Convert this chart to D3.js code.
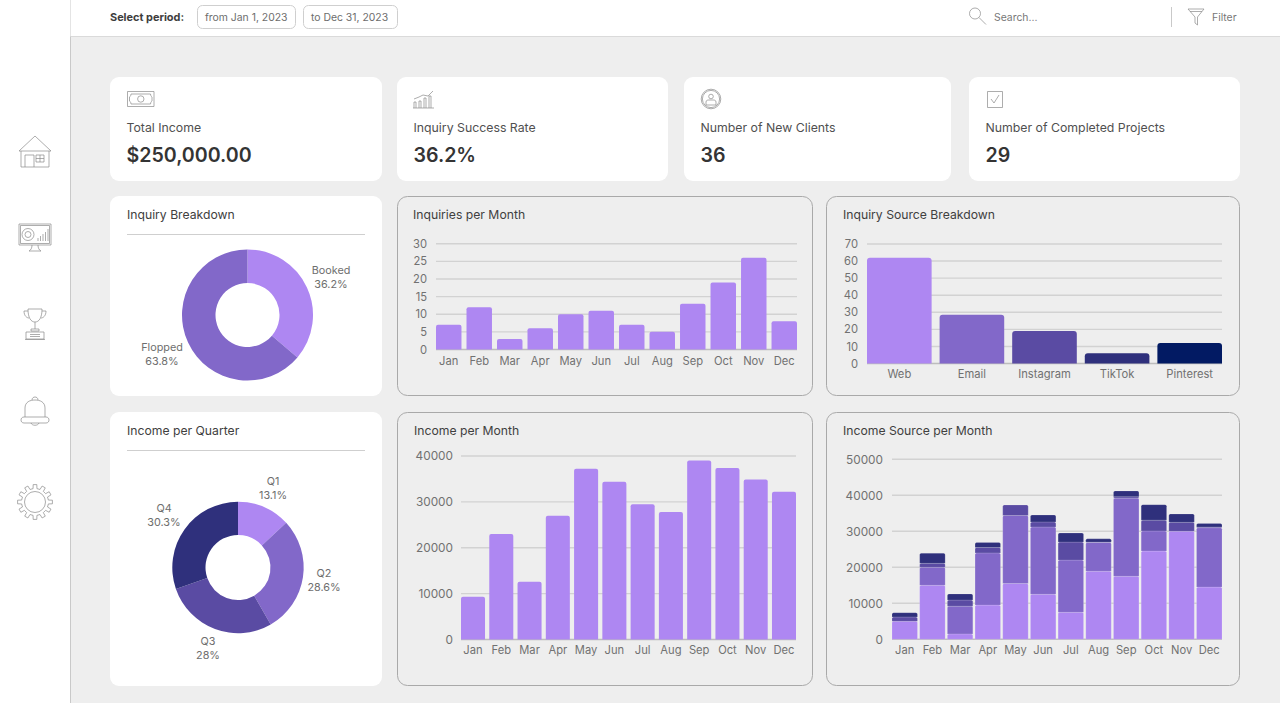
<!DOCTYPE html>
<html><head><meta charset="utf-8">
<script src="https://cdnjs.cloudflare.com/ajax/libs/d3/7.8.5/d3.min.js"></script>
<style>
html,body{margin:0;padding:0;background:#eee;overflow:hidden}
svg{display:block}
text{font-family:Inter,"Noto Sans",sans-serif}
.axis text{fill:#717171;font-size:11.2px}
.axis.big text{font-size:11.8px}
.axis path,.axis line{display:none}
.grid line{stroke:#d2d2d2;stroke-width:1.4}
.lbl{fill:#6e6e6e;font-size:10.8px;text-anchor:middle}
.ic{fill:none;stroke:#8a8a8a;stroke-width:.7}
</style></head><body>
<svg id="c" width="1280" height="703"></svg>
<script>
const months=["Jan","Feb","Mar","Apr","May","Jun","Jul","Aug","Sep","Oct","Nov","Dec"];
const inquiries=[7,12,3,6,10,11,7,5,13,19,26,8];
const sources=["Web","Email","Instagram","TikTok","Pinterest"];
const sourceValues=[62,28.5,19,6,12];
const incomeMonth=[9300,23000,12600,27000,37200,34400,29500,27800,39000,37400,34900,32200];
const stackKeys=["a","b","c","d"];
const seriesA=[5000,15000,1500,9500,15500,12500,7500,18900,17500,24500,30000,14500];
const seriesB=[0,5000,7700,14500,18900,18700,14500,8000,21700,5600,0,16500];
const seriesC=[1200,1100,1700,1500,2900,1400,5000,100,400,3000,2500,200];
const seriesD=[1200,2800,1700,1400,0,1900,2500,900,1600,4300,2300,1000];
const breakdown=[["Booked",36.2],["Flopped",63.8]];
const quarters=[["Q1",13.1],["Q2",28.6],["Q3",28],["Q4",30.3]];
const kpiTitles=["Total Income","Inquiry Success Rate","Number of New Clients","Number of Completed Projects"];
const kpiValues=["$250,000.00","36.2%","36","29"];
const purple=["#ae87f2","#8268c9","#5a4ba3","#2f307c"];
const sourceColors=["#ae87f2","#8268c9","#5a4ba3","#2f307c","#021a63"];

const svg=d3.select("#c");
const rect=(x,y,w,h,r,f,s)=>svg.append("rect").attr("x",x).attr("y",y).attr("width",w).attr("height",h)
  .attr("rx",r).attr("fill",f).attr("stroke",s||"none");
const text=(x,y,t,size,fill,weight)=>svg.append("text").attr("x",x).attr("y",y).text(t)
  .attr("font-size",size).attr("fill",fill).attr("font-weight",weight||400);

// shell
rect(0,0,1280,703,0,"#eeeeee");
rect(0,0,70.5,703,0,"#fff");
svg.append("line").attr("x1",70.5).attr("x2",70.5).attr("y1",0).attr("y2",703).attr("stroke","#c9c9c9");
rect(70.5,0,1210,36.5,0,"#fff");
svg.append("line").attr("x1",71).attr("x2",1280).attr("y1",36.5).attr("y2",36.5).attr("stroke","#dadada");
text(110,21,"Select period:",10.9,"#3d3d3d",700);
rect(197.5,5.5,98,23,5,"#fff","#cfcfcf");
text(205,21,"from Jan 1, 2023",10.4,"#6d6d6d");
rect(303.5,5.5,94,23,5,"#fff","#cfcfcf");
text(311,21,"to Dec 31, 2023",10.4,"#6d6d6d");
text(994,21,"Search...",10.4,"#777");
text(1212,21,"Filter",10.4,"#777");
svg.append("line").attr("x1",1171.5).attr("x2",1171.5).attr("y1",7).attr("y2",27).attr("stroke","#c9c9c9");

// KPI cards
const kpiBoxes=[[110,272],[397,271],[684,267],[969,271]];
kpiBoxes.forEach((b,i)=>{
  rect(b[0],77,b[1],104,9,"#fff");
  text(b[0]+16.5,132,kpiTitles[i],12.3,"#505050");
  text(b[0]+16.5,162,kpiValues[i],19.6,"#343434",600);
});

// panels
[[110,196,272,200],[110,412,272,274]].forEach(b=>rect(b[0],b[1],b[2],b[3],9,"#fff"));
[[397.5,196.5,415,199],[826.5,196.5,413,199],[397.5,412.5,415,273],[826.5,412.5,413,273]]
  .forEach(b=>rect(b[0],b[1],b[2],b[3],10,"#eeeeee","#a9a9a9"));
[[127,219,"Inquiry Breakdown"],[127,435,"Income per Quarter"],[413,219,"Inquiries per Month"],
 [843,219,"Inquiry Source Breakdown"],[414,435,"Income per Month"],[843,435,"Income Source per Month"]]
 .forEach(t=>text(t[0],t[1],t[2],12.2,"#404040"));
[234.5,450.5].forEach(y=>svg.append("line").attr("x1",127).attr("x2",365).attr("y1",y).attr("y2",y).attr("stroke","#cfcfcf"));

function barChart(o){
  const x=d3.scaleBand().domain(o.cats).range([o.x0,o.x1]).paddingInner(o.pad).paddingOuter(0);
  const y=d3.scaleLinear().domain([0,o.max]).range([o.y0,o.y1]);
  const g=svg.append("g").attr("class","grid");
  g.selectAll("line").data(o.ticks).join("line").attr("x1",o.x0).attr("x2",o.x1)
    .attr("y1",d=>y(d)).attr("y2",d=>y(d)).style("stroke",d=>d===0?"#bdbdbd":null);
  svg.append("g").attr("class","axis"+(o.big?" big":"")).attr("transform",`translate(${o.x0-3},0)`)
    .call(d3.axisLeft(y).tickValues(o.ticks).tickSize(0).tickPadding(o.tp).tickFormat(d3.format("d")));
  svg.append("g").attr("class","axis").attr("transform",`translate(0,${o.y0})`)
    .call(d3.axisBottom(x).tickSize(0).tickPadding(o.bp));
  return {x,y};
}
const topRounded=(x,y,w,h,r)=>{
  const p=d3.path(); r=Math.min(r,h,w/2);
  p.moveTo(x,y+h);p.lineTo(x,y+r);p.arcTo(x,y,x+r,y,r);p.lineTo(x+w-r,y);p.arcTo(x+w,y,x+w,y+r,r);p.lineTo(x+w,y+h);p.closePath();
  return p.toString();
};
function simpleBars(o,vals,colors){
  const {x,y}=barChart(o);
  svg.append("g").selectAll("path").data(vals).join("path")
    .attr("fill",(d,i)=>colors[i%colors.length])
    .attr("d",(d,i)=>topRounded(x(o.cats[i]),y(d),x.bandwidth(),y(0)-y(d),o.r));
}
simpleBars({cats:months,x0:436,x1:797,y0:349.5,y1:243.7,max:30,ticks:[0,5,10,15,20,25,30],pad:.165,tp:6,bp:8,r:2},inquiries,[purple[0]]);
simpleBars({cats:sources,x0:867,x1:1222,y0:363.5,y1:244,max:70,ticks:[0,10,20,30,40,50,60,70],pad:.11,tp:6,bp:7,r:3},sourceValues,sourceColors);
simpleBars({cats:months,x0:461,x1:796,y0:639.5,y1:456,max:40000,ticks:[0,10000,20000,30000,40000],pad:.15,tp:5,bp:7,r:2,big:true},incomeMonth,[purple[0]]);

// stacked
const stackOpt={cats:months,x0:892,x1:1222,y0:639.3,y1:459.3,max:50000,ticks:[0,10000,20000,30000,40000,50000],pad:.08,tp:6,bp:7,big:true};
const sc=barChart(stackOpt);
const rows=months.map((m,i)=>({m,a:seriesA[i],b:seriesB[i],c:seriesC[i],d:seriesD[i]}));
d3.stack().keys(stackKeys)(rows).forEach((s,k)=>{
  svg.append("g").selectAll("path").data(s.filter(d=>d[1]>d[0])).join("path")
    .attr("fill",purple[k]).attr("stroke","rgba(255,255,255,.25)").attr("stroke-width",.6)
    .attr("d",d=>topRounded(sc.x(d.data.m),sc.y(d[1]),sc.x.bandwidth(),sc.y(d[0])-sc.y(d[1]),1.5));
});

// donuts
function donut(cx,cy,R,r,data,labelPos){
  const pie=d3.pie().sort(null).value(d=>d[1]);
  const arc=d3.arc().innerRadius(r).outerRadius(R);
  const g=svg.append("g").attr("transform",`translate(${cx},${cy})`);
  g.selectAll("path").data(pie(data)).join("path").attr("d",arc).attr("fill",(d,i)=>purple[i]);
  data.forEach((d,i)=>{
    const p=labelPos[i];
    svg.append("text").attr("class","lbl").attr("x",p[0]).attr("y",p[1]).text(d[0]);
    svg.append("text").attr("class","lbl").attr("x",p[0]).attr("y",p[1]+14).text(d[1]+"%");
  });
}
donut(247.5,315,65.5,32,breakdown,[[331,274],[162,351]]);
donut(238,567.5,65.7,32.5,quarters,[[273,485],[324,577],[208,645],[164,512]]);

// icons
const ic=(tx,s,d)=>svg.append("path").attr("class","ic").attr("transform",`translate(${tx}) scale(${s})`).attr("d",d);
// house
ic("19,136",1,"M0 15 L16 0 L32 15 Z M2 15 V31 H30 V15 M6 31 V19 H15 V31 M17 19 H25 V26 H17 Z M21 19 V26 M17 22.5 H25");
// monitor
ic("19,224",1,"M0 0 H32 V21 H0 Z M1.5 1.5 H30.5 V19.5 H1.5 Z M13 21 C13 24 12 26 10 27 H22 C20 26 19 24 19 21");
svg.append("circle").attr("class","ic").attr("cx",28).attr("cy",234.5).attr("r",6);
svg.append("circle").attr("class","ic").attr("cx",28).attr("cy",234.5).attr("r",3);
ic("37,227",1,"M1 14 V11 M3.5 14 V9 M6 14 V7 M8.5 14 V5 M11 14 V2");
// trophy
ic("24,308",1,"M4 1 H18 C18 10 15 14 11 14 C7 14 4 10 4 1 Z M4 3 H0 C0 8 3 10 5 10 M18 3 H22 C22 8 19 10 17 10 M11 14 V21 M7 21 H15 V23 H7 Z M2 24 H20 V31 H2 Z M6 26.5 H16 M6 28.5 H16 M1 31.5 H21");
// bell
ic("21,396",1,"M4 21 V12 C4 6 9 4 14 4 C19 4 24 6 24 12 V21 M11 4 C11 0 17 0 17 4 M3 21 H25 C29 21 29 27 25 27 H3 C-1 27 -1 21 3 21 Z M10 27 C11 30 17 30 18 27");
// gear
(function(){
  const cx=35,cy=502,R1=13.5,R2=17.5,n=12;
  const pts=[];
  for(let i=0;i<n;i++){
    const a=i/n*2*Math.PI, w=.13;
    [[R1,a-w*1.1],[R2,a-w*.8],[R2,a+w*.8],[R1,a+w*1.1]].forEach(p=>pts.push([cx+p[0]*Math.sin(p[1]),cy-p[0]*Math.cos(p[1])]));
  }
  svg.append("path").attr("class","ic").attr("d",d3.line().curve(d3.curveLinearClosed)(pts));
  svg.append("circle").attr("class","ic").attr("cx",cx).attr("cy",cy).attr("r",10.5);
})();
// money
ic("127,91",1,"M0.5 0.5 H27 V15.5 H0.5 Z M4 3 H23.5 C23.5 5 25 6 25 6 V10 C25 10 23.5 11 23.5 13 H4 C4 11 2.5 10 2.5 10 V6 C2.5 6 4 5 4 3 Z");
svg.append("circle").attr("class","ic").attr("cx",140.8).attr("cy",99).attr("r",3.2);
// growth
ic("413,90",1,"M1 18 V12 H3 V18 M6 18 V11 H8 V18 M11 18 V8 H13 V18 M16 18 V6 H18 V18 M0 18 H21 M1 9 L6 7 L10 5 L15 6 L20 1");
// person
svg.append("circle").attr("class","ic").attr("cx",711).attr("cy",99).attr("r",9.8);
svg.append("circle").attr("class","ic").attr("cx",711).attr("cy",99).attr("r",8.6);
svg.append("circle").attr("class","ic").attr("cx",711).attr("cy",96.5).attr("r",2.3);
ic("706,99",1,"M0 6 V3 C0 1 2 1 3 1 H7 C8 1 10 1 10 3 V6 Z");
// check
ic("987,91",1,"M0.5 0.5 H15.5 V16.5 H0.5 Z M4 8 L7 12 L12 4");
// search
svg.append("circle").attr("class","ic").attr("cx",975).attr("cy",13.5).attr("r",5.5);
ic("979,17.5",1,"M0 0 L7 7");
// filter
ic("1188,9",1,"M0 0 H16 L9.5 8 V16 L7 14 V8 Z M2 2.5 H14");
</script></body></html>
